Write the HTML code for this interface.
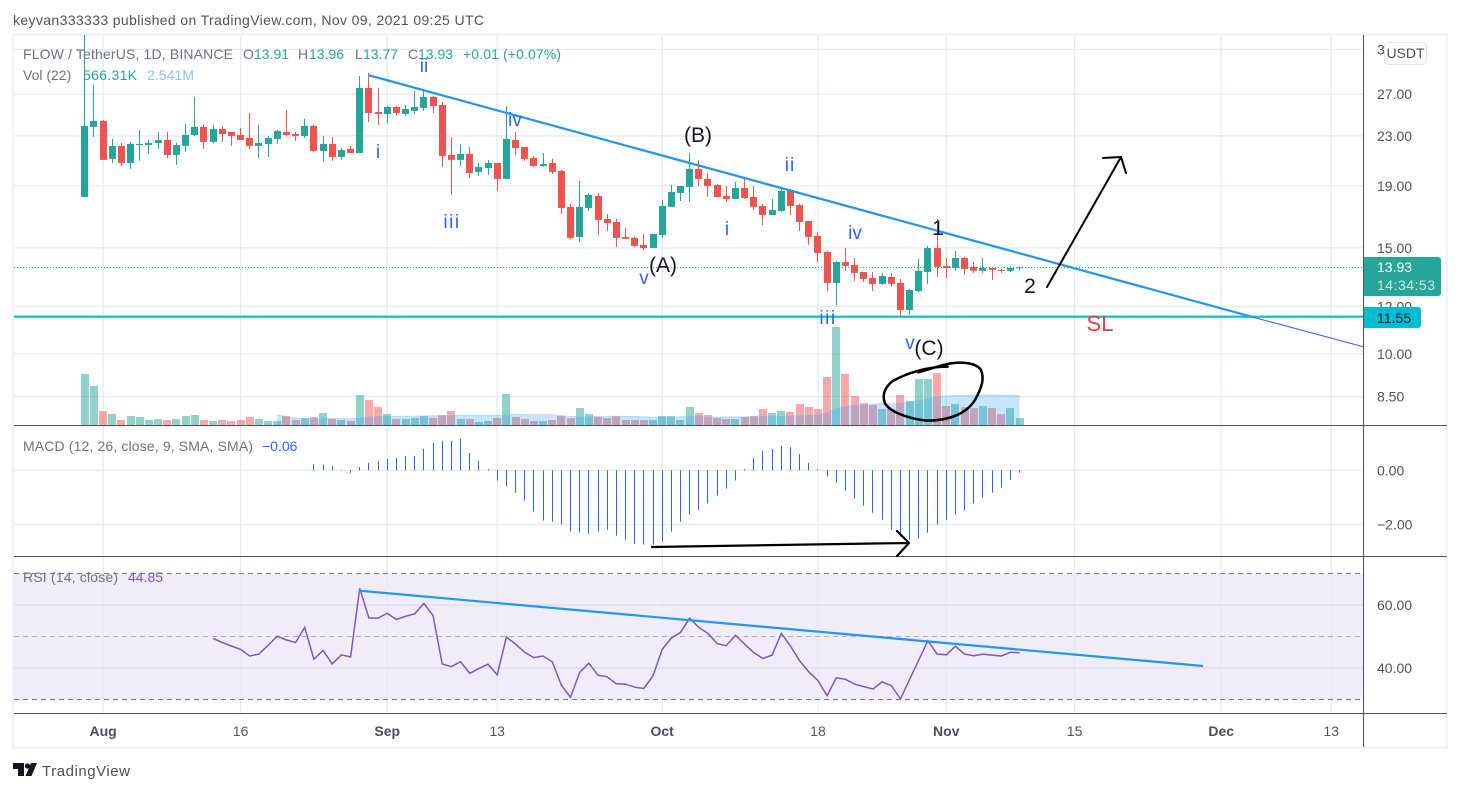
<!DOCTYPE html>
<html lang="en">
<head>
<meta charset="utf-8">
<title>FLOW / TetherUS chart</title>
<style>
html,body{margin:0;padding:0;background:#fff;width:1461px;height:792px;overflow:hidden}
svg{display:block}
text{font-family:"Liberation Sans",sans-serif;font-size:14px;fill:#50535e}
.gl{fill:#6f727d}
.up{fill:#26a69a}
.wave{fill:#2962ff;font-size:19px}
.bk{fill:#131722;font-size:21px}
</style>
</head>
<body>
<svg id="chart" xmlns="http://www.w3.org/2000/svg" width="1461" height="792" viewBox="0 0 1461 792">
  <defs>
    <clipPath id="clip-main"><rect x="14" y="35" width="1349.5" height="390"/></clipPath>
    <clipPath id="clip-macd"><rect x="14" y="426" width="1349.5" height="130"/></clipPath>
    <clipPath id="clip-rsi"><rect x="14" y="557" width="1349.5" height="156"/></clipPath>
  </defs>
  <rect x="0" y="0" width="1461" height="792" fill="#ffffff"/>
  <text x="13" y="25" textLength="471" lengthAdjust="spacing" style="fill:#50535e">keyvan333333 published on TradingView.com, Nov 09, 2021 09:25 UTC</text>
  <rect x="13" y="34.5" width="1434" height="713" fill="none" stroke="#f0f3fa" stroke-width="2.4"/>
  <rect x="14" y="573.5" width="1349.5" height="126" fill="#9575cd" fill-opacity="0.14"/>
  <g id="grid"></g>
  <g id="volume" clip-path="url(#clip-main)"></g>
  <g id="candles" clip-path="url(#clip-main)"></g>

  <line x1="14" y1="267.5" x2="1363" y2="267.5" stroke="#26a69a" stroke-width="1" stroke-dasharray="1 2"/>
  <line x1="14" y1="316.7" x2="1363.5" y2="316.7" stroke="#00bcd4" stroke-width="2.2"/>
  <g id="drawings"></g>

  <g id="macd" clip-path="url(#clip-macd)"></g>

  <line x1="14" y1="573.5" x2="1363" y2="573.5" stroke="#787b86" stroke-width="1" stroke-dasharray="5 4"/>
  <line x1="14" y1="636.5" x2="1363" y2="636.5" stroke="#787b86" stroke-opacity="0.55" stroke-width="1" stroke-dasharray="5 4"/>
  <line x1="14" y1="699.5" x2="1363" y2="699.5" stroke="#787b86" stroke-width="1" stroke-dasharray="5 4"/>
  <g id="rsi" clip-path="url(#clip-rsi)"></g>
  <line x1="359" y1="590.7" x2="1203" y2="666" stroke="#2196f3" stroke-width="2.2"/>

  <line x1="14" y1="425.5" x2="1447" y2="425.5" stroke="#50535e" stroke-width="1"/>
  <line x1="14" y1="556.5" x2="1447" y2="556.5" stroke="#50535e" stroke-width="1"/>
  <line x1="14" y1="713.5" x2="1447" y2="713.5" stroke="#50535e" stroke-width="1"/>
  <line x1="1363.5" y1="35" x2="1363.5" y2="747" stroke="#50535e" stroke-width="1"/>

  <g id="axes"></g>

  <g>
    <text class="gl" x="23" y="59" textLength="210">FLOW / TetherUS, 1D, BINANCE</text>
    <text class="gl" x="243" y="59">O</text>
    <text class="up" x="254" y="59">13.91</text>
    <text class="gl" x="298" y="59">H</text>
    <text class="up" x="309" y="59">13.96</text>
    <text class="gl" x="355" y="59">L</text>
    <text class="up" x="363" y="59">13.77</text>
    <text class="gl" x="408" y="59">C</text>
    <text class="up" x="418" y="59">13.93</text>
    <text class="up" x="463" y="59" textLength="98">+0.01 (+0.07%)</text>
    <text class="gl" x="23" y="80">Vol (22)</text>
    <text class="up" x="83" y="80" textLength="54">566.31K</text>
    <text x="147" y="80" textLength="47" style="fill:#90bff9">2.541M</text>
    <text class="gl" x="23" y="451" textLength="230">MACD (12, 26, close, 9, SMA, SMA)</text>
    <text x="262" y="451" style="fill:#2962ff">−0.06</text>
    <text class="gl" x="23" y="582" textLength="95">RSI (14, close)</text>
    <text x="128" y="582" style="fill:#7e57c2">44.85</text>
  </g>

  <g>
    <text class="wave" x="424" y="72" text-anchor="middle">ii</text>
    <text class="wave" x="378" y="158" text-anchor="middle">i</text>
    <text class="wave" x="452" y="228" text-anchor="middle" letter-spacing="1.5">iii</text>
    <text class="wave" x="515" y="126" text-anchor="middle">iv</text>
    <text class="wave" x="644" y="284" text-anchor="middle">v</text>
    <text class="bk" x="663" y="272" text-anchor="middle">(A)</text>
    <text class="bk" x="698" y="142" text-anchor="middle">(B)</text>
    <text class="wave" x="727" y="235" text-anchor="middle">i</text>
    <text class="wave" x="790" y="171" text-anchor="middle" letter-spacing="1">ii</text>
    <text class="wave" x="855" y="239" text-anchor="middle">iv</text>
    <text class="wave" x="828" y="324" text-anchor="middle" letter-spacing="1.5">iii</text>
    <text class="wave" x="910" y="349" text-anchor="middle">v</text>
    <text class="bk" x="929" y="355" text-anchor="middle">(C)</text>
    <text class="bk" x="938" y="235" text-anchor="middle">1</text>
    <text class="bk" x="1030" y="293" text-anchor="middle">2</text>
    <text x="1100" y="331" text-anchor="middle" style="fill:#f23645;font-size:22px">SL</text>
  </g>

  <g fill="none" stroke="#000000" stroke-linecap="round" stroke-linejoin="round">
    <path stroke-width="2" d="M1047 287 L1121 157 M1103 158 L1121 157 L1126 173"/>
    <path stroke-width="2.2" d="M652 547 L908 543 M897 531 L909 543 L897 556"/>
    <path stroke-width="7.5" transform="translate(560 320) scale(0.3333)" d="M1163 140 C1100 140 1040 160 1000 182 C975 200 965 225 975 250 C990 275 1040 295 1100 302 C1170 302 1220 280 1245 240 C1265 205 1275 175 1262 148 C1245 128 1200 122 1150 135 L1075 157"/>
  </g>

  <rect x="1384.5" y="42.5" width="42" height="22" rx="4" fill="#ffffff" stroke="#e0e3eb"/>
  <text x="1405.5" y="58" text-anchor="middle" style="fill:#50535e">USDT</text>

  <path d="M1364 257 H1438 a3 3 0 0 1 3 3 V293 a3 3 0 0 1 -3 3 H1364 Z" fill="#26a69a"/>
  <text x="1377" y="272" style="fill:#ffffff">13.93</text>
  <text x="1377" y="290" textLength="58" style="fill:#c5e6e2">14:34:53</text>
  <path d="M1364 307 H1418 a3 3 0 0 1 3 3 V325 a3 3 0 0 1 -3 3 H1364 Z" fill="#00bcd4"/>
  <text x="1377" y="323" style="fill:#131722">11.55</text>

  <g>
    <path d="M13 763 H24 V776 H18 V769 H13 Z M37 763 L31.5 776 H25.5 L31 763 Z" fill="#131722"/>
    <circle cx="27.5" cy="766" r="2.6" fill="#131722"/>
    <text x="42" y="776" textLength="88" style="font-size:15px;fill:#4a4e59">TradingView</text>
  </g>
</svg>
<script>
/* ---------- data ---------- */
const firstDay = -2; // days relative to Aug 1; one entry per daily bar
const opens = [18.22,23.81,24.36,21.07,22.14,20.74,22.22,22.22,22.39,22.65,
21.39,22.14,23.09,23.81,22.48,23.63,23.35,23.09,22.83,22.14,
22.31,22.74,23.35,23.17,23.00,23.90,21.72,22.31,21.23,21.89,
21.55,27.63,25.21,25.01,25.70,25.01,25.31,25.60,26.70,25.89,
21.39,20.99,21.47,20.05,20.35,20.74,19.52,22.65,22.05,21.15,
20.51,20.74,20.12,17.54,15.64,17.47,18.29,16.75,16.56,15.64,
15.58,15.17,14.99,15.76,17.54,18.50,18.93,20.28,19.52,19.07,
18.29,18.08,18.86,18.22,17.60,17.01,17.27,18.71,17.67,16.62,
15.70,14.77,13.12,14.21,14.05,13.68,13.37,13.07,13.42,13.12,
11.83,12.72,13.68,14.99,14.00,13.89,14.43,13.95,13.74,13.89,
13.79,13.74,13.91];
const highs = [36.00,27.95,24.45,22.74,22.39,22.48,23.53,22.65,23.35,23.35,
22.39,24.08,26.70,23.99,23.99,23.90,23.35,23.72,25.11,23.99,
23.00,23.53,25.41,23.35,24.55,23.99,23.00,22.91,21.97,22.14,
28.92,29.25,27.63,25.79,25.79,25.89,27.32,27.42,26.80,26.19,
22.91,22.31,22.05,20.74,20.99,20.74,25.79,23.35,22.05,21.31,
21.55,21.07,20.20,17.74,19.37,18.50,18.50,17.07,16.75,16.19,
15.64,15.82,15.82,18.01,19.07,19.00,21.55,20.99,19.97,19.14,
19.00,19.29,19.52,19.00,17.74,18.08,18.79,18.79,17.74,16.62,
15.94,14.82,14.27,14.99,14.43,13.68,13.68,13.63,13.63,13.32,
12.82,14.38,15.11,16.75,14.43,14.82,14.49,14.21,14.43,13.95,
13.84,14.00,13.96];
const lows = [18.22,22.91,20.99,20.74,20.51,20.28,20.91,21.47,21.89,21.15,
20.59,21.64,23.00,21.89,22.39,22.48,22.14,22.65,21.89,21.15,
21.23,22.31,23.00,22.57,22.83,21.64,20.83,20.91,20.99,21.55,
21.55,24.26,23.99,24.17,24.92,24.83,25.01,25.31,25.11,20.43,
18.36,20.51,19.59,19.74,19.82,18.64,19.52,21.39,20.91,20.43,
20.43,19.89,17.07,15.52,15.34,17.27,15.76,16.00,15.05,15.52,
15.05,14.88,14.99,15.58,17.54,17.94,17.87,19.00,18.22,18.22,
17.87,18.08,18.08,17.34,16.37,17.01,17.20,17.01,16.00,15.17,
14.21,12.72,12.06,13.74,13.22,13.17,12.72,13.02,12.92,11.52,
11.61,12.67,13.07,13.42,13.37,13.74,13.53,13.63,13.63,13.27,
13.63,13.68,13.77];
const closes = [23.90,24.36,20.99,22.14,20.74,22.31,22.31,22.39,22.65,21.39,
22.22,23.09,23.81,22.48,23.63,23.17,23.00,22.65,22.14,22.39,
22.83,23.44,23.09,23.00,23.90,21.72,22.31,21.23,21.80,21.55,
27.63,25.11,25.01,25.70,25.11,25.50,25.70,26.70,25.79,21.31,
20.99,21.47,19.97,20.43,20.74,19.52,22.74,21.97,21.07,20.51,
20.66,20.05,17.47,15.58,17.54,18.36,16.69,16.49,15.58,15.52,
15.11,14.99,15.82,17.60,18.57,19.00,20.28,19.52,19.00,18.22,
18.08,18.86,18.15,17.54,17.01,17.34,18.64,17.60,16.56,15.64,
14.71,13.12,14.21,14.00,13.63,13.32,13.07,13.47,13.07,11.83,
12.77,13.74,14.99,13.95,13.89,14.43,13.84,13.74,13.89,13.79,
13.74,13.89,13.93];
const volumes = [4.18,3.20,1.15,.90,.41,.74,.66,.41,.49,.41,
.49,.74,.82,.41,.33,.41,.33,.41,.66,.49,
.33,.33,.74,.41,.57,.66,.98,.49,.41,.33,
2.46,2.05,1.48,.90,.49,.49,.57,.74,.57,.82,
1.15,.49,.49,.25,.33,.57,2.54,.66,.49,.33,
.33,.41,.74,.57,1.39,.90,.66,.57,.74,.41,
.41,.41,.41,.74,.74,.41,1.48,.98,.82,.57,
.49,.49,.66,.74,1.31,.98,1.15,1.07,1.72,1.48,
1.31,3.94,8.04,4.18,2.38,1.80,1.64,1.31,1.31,2.46,
1.97,3.77,3.77,4.26,1.56,1.72,1.48,1.39,1.56,1.39,
.90,1.39,.566];
const volumeMaLength = 22;
const macdFirstDay = 23;
const macdHistogram = [.23,.20,.16,.02,-.09,.12,.27,.35,.42,.46,.53,.53,.79,1.01,1.09,1.09,1.16,.64,.35,.05,
-.38,-.60,-.83,-1.12,-1.53,-1.86,-1.90,-2.01,-2.27,-2.31,-2.35,-2.27,-2.20,-2.42,-2.57,-2.72,-2.75,-2.75,-2.64,-2.27,
-1.90,-1.64,-1.46,-1.23,-.94,-.68,-.38,.05,.46,.72,.79,.90,.86,.60,.27,.05,
-.23,-.46,-.75,-1.05,-1.31,-1.57,-1.83,-2.20,-2.46,-2.57,-2.53,-2.31,-2.01,-1.83,-1.64,-1.49,-1.23,-1.01,-.83,-.64,-.36,-.09];
const rsiFirstDay = 12;
const rsiValues = [49.4,48.1,47.0,45.9,43.8,44.4,47.2,50.1,48.9,48.1,52.9,42.8,45.6,41.3,44.2,43.5,65.3,55.9,55.8,57.4,
55.4,56.4,57.2,60.5,56.7,41.3,40.4,42.0,38.3,39.8,41.2,37.8,49.8,47.6,45.0,43.3,43.8,42.0,34.6,30.7,
38.6,41.5,37.7,37.2,35.0,34.9,33.9,33.5,37.5,45.9,49.5,51.3,55.8,52.9,51.0,47.7,47.1,50.4,47.6,44.9,
43.0,44.1,51.0,47.0,42.3,38.8,36.0,31.2,36.9,36.4,34.9,34.1,33.3,35.6,34.4,30.2,36.4,42.5,48.7,44.4,
44.2,46.9,44.4,43.9,44.4,44.1,43.8,45.0,44.85];
const priceTicks = [32,27,23,19,15,12,10,8.5];
const macdTicks = [0,-2];
const rsiTicks = [60,40];
const timeTickDays = [0,15,31,43,61,78,92,106,122,134];
const timeTickLabels = ["Aug","16","Sep","13","Oct","18","Nov","15","Dec","13"];
const timeTickMajor = [true,false,true,false,true,false,true,false,true,false];
const trendDays = [29,125.4,137.6];
const trendPrices = [29.0,11.52,10.27];

/* ---------- axis functions ---------- */
const xOf = d => 103.1 + 9.165 * d;
const snap = x => Math.floor(x) + 0.5;
const priceY = p => 354 - 261.8 * Math.log(p / 10);
const volumeY = v => 425 - v / 0.082;
const macdY = v => 470.3 + (0 - v) * 27;
const rsiY = v => 636.5 - (v - 50) * 3.15;

/* ---------- helpers ---------- */
const NS = 'http://www.w3.org/2000/svg';
function mk(tag, props, parent) {
  const n = document.createElementNS(NS, tag);
  for (const k in props) n.setAttribute(k, props[k]);
  parent.appendChild(n);
  return n;
}
const UP = '#26a69a', DOWN = '#ef5350';
const gridG = document.getElementById('grid');
const volG = document.getElementById('volume');
const candleG = document.getElementById('candles');
const macdG = document.getElementById('macd');
const rsiG = document.getElementById('rsi');
const axesG = document.getElementById('axes');
const drawG = document.getElementById('drawings');

/* ---------- grid + axis labels ---------- */
timeTickDays.forEach((d, i) => {
  const line = mk('line', {x1: xOf(d), x2: xOf(d), y1: 36, y2: 713, stroke: '#e1ecf2', 'stroke-width': 1.3}, gridG);
  
  
  const t = mk('text', {x: xOf(d), y: 736, 'text-anchor': 'middle'}, axesG);
  t.textContent = timeTickLabels[i];
  if (timeTickMajor[i]) t.setAttribute('style', 'font-weight:bold;fill:#4a4e59');
  
  
});
priceTicks.forEach(p => {
  const line = mk('line', {x1: 14, x2: 1363, y1: priceY(p), y2: priceY(p), stroke: '#e1ecf2', 'stroke-width': 1.3}, gridG);
  
  
  const t = mk('text', {x: 1377, y: priceY(p) + 5}, axesG);
  t.textContent = p.toFixed(2);
  
  
});
macdTicks.forEach(v => {
  const line = mk('line', {x1: 14, x2: 1363, y1: macdY(v), y2: macdY(v), stroke: '#e1ecf2', 'stroke-width': 1.3}, gridG);
  
  
  const t = mk('text', {x: 1377, y: macdY(v) + 5}, axesG);
  t.textContent = (v < 0 ? '\u2212' : '') + Math.abs(v).toFixed(2);
  
  
});
rsiTicks.forEach(v => {
  const line = mk('line', {x1: 14, x2: 1363, y1: rsiY(v), y2: rsiY(v), stroke: '#dadcef', 'stroke-width': 1.3}, gridG);
  
  
  const t = mk('text', {x: 1377, y: rsiY(v) + 5}, axesG);
  t.textContent = v.toFixed(2);
  
  
});

/* ---------- volume ---------- */
volumes.forEach((v, i) => {
  const d = firstDay + i;
  const rising = closes[i] >= opens[i];
  const top = volumeY(v);
  const bar = mk('rect', {x: Math.round(xOf(d) - 4), y: top, width: 8, height: 425 - top, fill: rising ? UP : DOWN, 'fill-opacity': 0.5}, volG);
  
  
});
const maPoints = [];
volumes.forEach((v, i) => {
  if (i < volumeMaLength - 1) return;
  let sum = 0;
  for (let k = i - volumeMaLength + 1; k <= i; k++) sum += volumes[k];
  maPoints.push([xOf(firstDay + i), volumeY(sum / volumeMaLength)]);
});
const maPath = maPoints.map(p => p[0].toFixed(1) + ',' + p[1].toFixed(1)).join(' ');
const maArea = mk('polygon', {
  points: maPoints[0][0].toFixed(1) + ',425 ' + maPath + ' ' + maPoints[maPoints.length - 1][0].toFixed(1) + ',425',
  fill: '#2196f3', 'fill-opacity': 0.25
}, volG);


const maLine = mk('polyline', {points: maPath, fill: 'none', stroke: '#90bff9', 'stroke-opacity': 0.5, 'stroke-width': 1}, volG);



/* ---------- candles ---------- */
opens.forEach((o, i) => {
  const d = firstDay + i, c = closes[i];
  const col = c >= o ? UP : DOWN;
  const cx = snap(xOf(d));
  const wick = mk('line', {x1: cx, x2: cx, y1: priceY(highs[i]), y2: priceY(lows[i]), stroke: col, 'stroke-width': 1}, candleG);
  
  
  const top = priceY(Math.max(o, c)), bottom = priceY(Math.min(o, c));
  const body = mk('rect', {x: cx - 3.5, y: top, width: 7, height: Math.max(1, bottom - top), fill: col}, candleG);
  
  
});

/* ---------- trend line ---------- */
const trendThick = mk('line', {x1: xOf(trendDays[0]), y1: priceY(trendPrices[0]), x2: xOf(trendDays[1]), y2: priceY(trendPrices[1]), stroke: '#2196f3', 'stroke-width': 2.2}, drawG);


const trendThin = mk('line', {x1: xOf(trendDays[1]), y1: priceY(trendPrices[1]), x2: xOf(trendDays[2]), y2: priceY(trendPrices[2]), stroke: '#2962ff', 'stroke-width': 1}, drawG);



/* ---------- MACD ---------- */
macdHistogram.forEach((v, i) => {
  const x = snap(xOf(macdFirstDay + i));
  const bar = mk('line', {x1: x, x2: x, y1: macdY(0), y2: macdY(v), stroke: '#2962ff', 'stroke-width': 1}, macdG);
  
  
});

/* ---------- RSI ---------- */
const rsiLine = mk('polyline', {
  points: rsiValues.map((v, i) => xOf(rsiFirstDay + i).toFixed(1) + ',' + rsiY(v).toFixed(1)).join(' '),
  fill: 'none', stroke: '#7e57c2', 'stroke-width': 1.5
}, rsiG);


</script>
</body>
</html>
